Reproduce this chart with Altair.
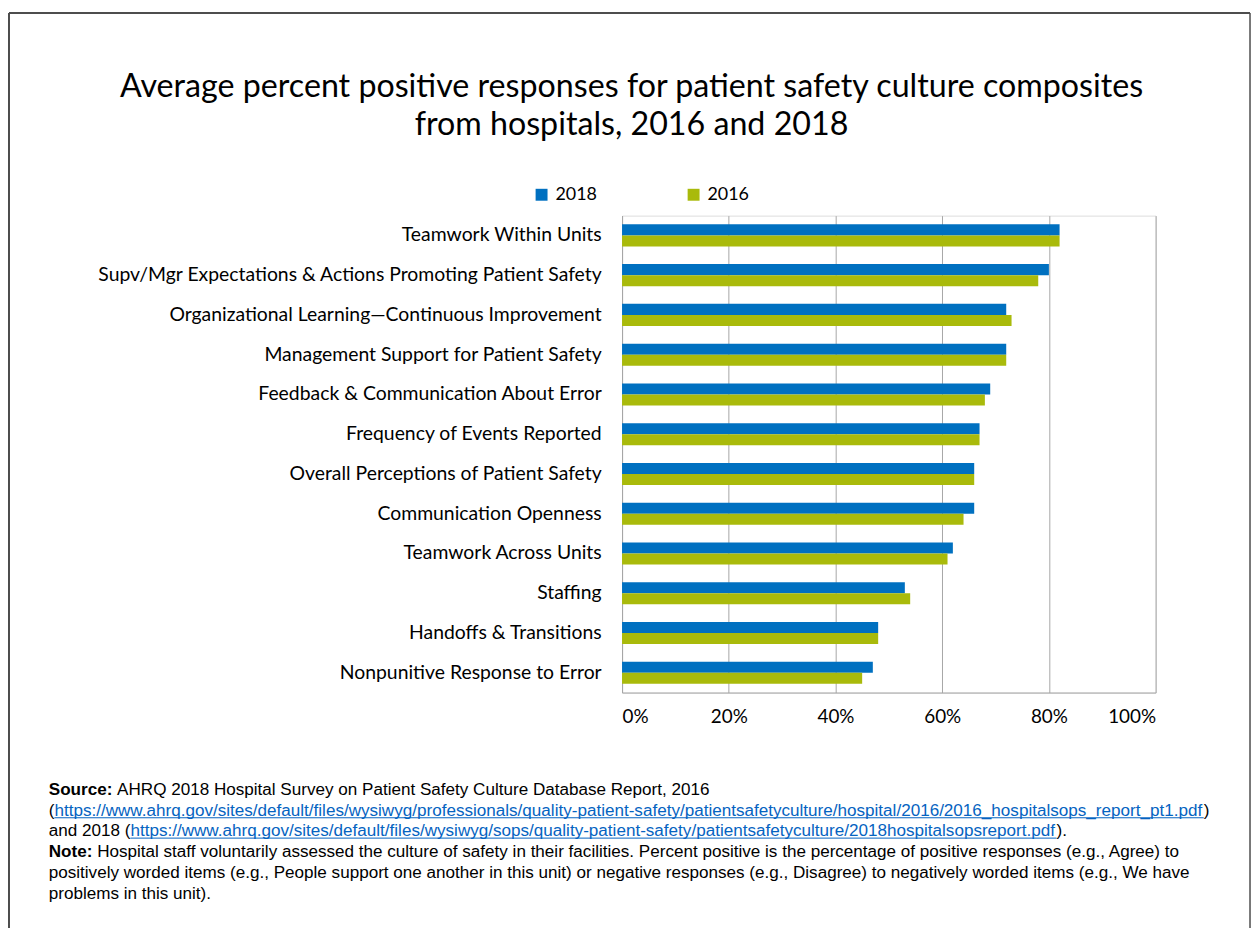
import altair as alt
import pandas as pd

categories = [
    "Teamwork Within Units",
    "Supv/Mgr Expectations & Actions Promoting Patient Safety",
    "Organizational Learning\u2014Continuous Improvement",
    "Management Support for Patient Safety",
    "Feedback & Communication About Error",
    "Frequency of Events Reported",
    "Overall Perceptions of Patient Safety",
    "Communication Openness",
    "Teamwork Across Units",
    "Staffing",
    "Handoffs & Transitions",
    "Nonpunitive Response to Error",
]
values_2018 = [82, 80, 72, 72, 69, 67, 66, 66, 62, 53, 48, 47]
values_2016 = [82, 78, 73, 72, 68, 67, 66, 64, 61, 54, 48, 45]
years = ["2018", "2016"]
colors = ["#0070C0", "#A9BA0B"]
x_ticks = [0, 20, 40, 60, 80, 100]

title_lines = [
    "Average percent positive responses for patient safety culture composites",
    "from hospitals, 2016 and 2018",
]
source_label = "Source:"
source_text = "AHRQ 2018 Hospital Survey on Patient Safety Culture Database Report, 2016"
url_2016 = "https://www.ahrq.gov/sites/default/files/wysiwyg/professionals/quality-patient-safety/patientsafetyculture/hospital/2016/2016_hospitalsops_report_pt1.pdf"
url_2018 = "https://www.ahrq.gov/sites/default/files/wysiwyg/sops/quality-patient-safety/patientsafetyculture/2018hospitalsopsreport.pdf"
note_label = "Note:"
note_lines = [
    "Hospital staff voluntarily assessed the culture of safety in their facilities. Percent positive is the percentage of positive responses (e.g., Agree) to",
    "positively worded items (e.g., People support one another in this unit) or negative responses (e.g., Disagree) to negatively worded items (e.g., We have",
    "problems in this unit).",
]

rows = []
for c, a, b in zip(categories, values_2018, values_2016):
    rows.append({"category": c, "year": "2018", "value": a})
    rows.append({"category": c, "year": "2016", "value": b})
df = pd.DataFrame(rows)

TITLE_FONT = "Lato"
NOTE_FONT = "Liberation Sans"
NOTE_SIZE = 17.2
LINK = "#0563C1"

bars = alt.Chart(df).mark_bar().encode(
    x=alt.X(
        "value:Q",
        scale=alt.Scale(domain=[0, 100], nice=False),
        axis=alt.Axis(
            values=x_ticks,
            labelExpr="datum.value + '%'",
            title=None,
            grid=True,
            gridColor="#A6A6A6",
            gridWidth=1,
            domainColor="#A6A6A6",
            ticks=False,
            labelPadding=15,
            labelFont=TITLE_FONT,
            labelFontSize=19,
            labelColor="#000000",
        ),
    ),
    y=alt.Y(
        "category:N",
        sort=categories,
        scale=alt.Scale(paddingInner=0.4425, paddingOuter=0.22),
        axis=alt.Axis(
            title=None,
            ticks=False,
            domainColor="#A6A6A6",
            labelPadding=21,
            labelFont=TITLE_FONT,
            labelFontSize=19.5,
            labelColor="#000000",
            labelLimit=700,
        ),
    ),
    yOffset=alt.YOffset("year:N", sort=years, scale=alt.Scale(paddingInner=0)),
    color=alt.Color(
        "year:N",
        sort=years,
        scale=alt.Scale(domain=years, range=colors),
        legend=alt.Legend(
            title=None,
            orient="none",
            direction="horizontal",
            legendX=-90,
            legendY=-30,
            symbolType="square",
            symbolSize=144,
            symbolStrokeWidth=0,
            symbolOpacity=1,
            labelFont=TITLE_FONT,
            labelFontSize=18,
            labelColor="#000000",
            labelOffset=5,
            columnPadding=88,
            padding=0,
        ),
    ),
)


def txt(s, x, y, font=NOTE_FONT, size=NOTE_SIZE, color="#000000", weight="normal", align="left"):
    return alt.Chart(pd.DataFrame({"t": [s]})).mark_text(
        font=font, fontSize=size, color=color, fontWeight=weight,
        align=align, baseline="middle",
    ).encode(text="t:N", x=alt.value(x), y=alt.value(y))


def hline(x1, x2, y, color, w=1):
    return alt.Chart(pd.DataFrame({"a": [0]})).mark_rule(color=color, strokeWidth=w).encode(
        x=alt.value(x1), x2=alt.value(x2), y=alt.value(y)
    )


def vline(x, y1, y2, color, w=1):
    return alt.Chart(pd.DataFrame({"a": [0]})).mark_rule(color=color, strokeWidth=w).encode(
        x=alt.value(x), y=alt.value(y1), y2=alt.value(y2)
    )


frame_color = "#4D4D4D"
frame = [
    hline(-617, 632, -204, frame_color, 2),
    vline(-617, -204, 740, frame_color, 2),
    vline(632, -204, 740, frame_color, 1.5),
]

title = [
    txt(title_lines[0], 9.5, -129.5, font=TITLE_FONT, size=32.4, align="center"),
    txt(title_lines[1], 9.5, -91.5, font=TITLE_FONT, size=32.4, align="center"),
]

fy = [578, 599, 619.5, 640.5, 661.5, 682.5]
X0 = -577
footer = [
    txt(source_label, X0, fy[0], weight="bold"),
    txt(source_text, -508.2, fy[0]),
    txt("(", X0, fy[1]),
    txt(url_2016, -571.3, fy[1], color=LINK),
    hline(-571.3, 585.4, fy[1] + 7, LINK),
    txt(")", 585.4, fy[1]),
    txt("and 2018 (", X0, fy[2]),
    txt(url_2018, -494.8, fy[2], color=LINK),
    hline(-494.8, 437.3, fy[2] + 7, LINK),
    txt(").", 437.3, fy[2]),
    txt(note_label, X0, fy[3], weight="bold"),
    txt(note_lines[0], -528.3, fy[3]),
    txt(note_lines[1], X0, fy[4]),
    txt(note_lines[2], X0, fy[5]),
]

chart = alt.layer(bars, *frame, *title, *footer).properties(
    width=537,
    height=480,
    autosize=alt.AutoSizeParams(type="none"),
    padding={"left": 618, "top": 206, "right": 97, "bottom": 234},
).configure_view(stroke="transparent").configure(background="#FFFFFF")

chart.save("out.html", embed_options={"renderer": "svg", "actions": False})
